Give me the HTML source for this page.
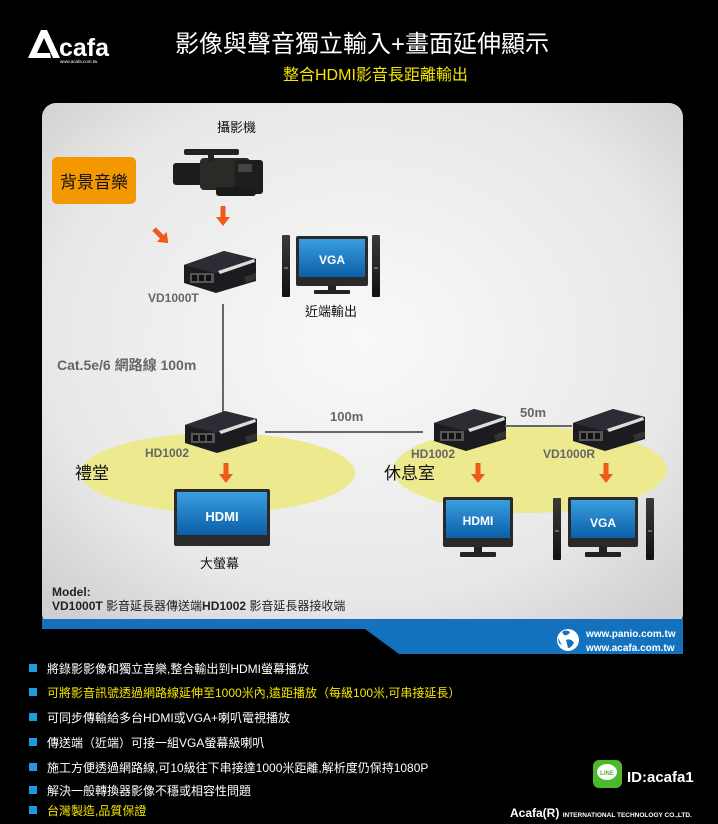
<!DOCTYPE html>
<html><head><meta charset="utf-8"><style>
body{margin:0;width:718px;height:824px;background:#000;overflow:hidden;font-family:"Liberation Sans","Noto Sans CJK TC",sans-serif}
svg{position:absolute;left:0;top:0}
</style></head><body>
<svg width="718" height="824" viewBox="0 0 718 824" font-family="Liberation Sans, Noto Sans CJK TC, sans-serif">
<defs>
<radialGradient id="pg" cx="0.5" cy="0.45" r="0.7">
<stop offset="0" stop-color="#f9f9f9"/><stop offset="0.7" stop-color="#e8e8e8"/><stop offset="1" stop-color="#cfcfcf"/>
</radialGradient>
<linearGradient id="scr" x1="0" y1="0" x2="0" y2="1"><stop offset="0" stop-color="#3a9ee0"/><stop offset="1" stop-color="#0b5fa8"/></linearGradient>
<linearGradient id="blk" x1="0" y1="0" x2="0" y2="1"><stop offset="0" stop-color="#3a3a3a"/><stop offset="1" stop-color="#111"/></linearGradient>
<g id="box">
<polygon points="0,14 40,0 72,8 72,30 32,42 0,32" fill="#1c1c20"/>
<polygon points="0,14 40,0 72,8 32,22" fill="#2c2c34"/>
<polygon points="34,20 70,8 71,11 36,23" fill="#ddd"/>
<rect x="6" y="22" width="24" height="10" fill="#555"/>
<rect x="8" y="24" width="5" height="6" fill="#111"/><rect x="15" y="24" width="5" height="6" fill="#111"/><rect x="22" y="24" width="5" height="6" fill="#111"/>
<polygon points="60,26 72,22 72,28 62,32" fill="#333"/>
</g>
<g id="spk"><rect x="0" y="0" width="8" height="62" rx="1" fill="url(#blk)"/><rect x="2" y="32" width="4" height="2" fill="#666"/></g>
<g id="arr"><rect x="-2.5" y="0" width="5" height="12" fill="#ee5a1c"/><polygon points="-7,11 7,11 0,20" fill="#ee5a1c"/></g>
</defs>

<!-- header -->
<polygon points="28,58 41,30 47,30 60,58 53,58 44,38 37,53 50,53 51,58" fill="#fff"/>
<text x="59" y="56" fill="#fff" font-size="25" font-weight="bold">cafa</text>
<text x="60" y="63" fill="#fff" font-size="4.5">www.acafa.com.tw</text>
<text x="175" y="52" fill="#fff" font-size="24">影像與聲音獨立輸入+畫面延伸顯示</text>
<text x="283" y="80" fill="#f5e500" font-size="16">整合HDMI影音長距離輸出</text>

<!-- panel -->
<rect x="42" y="103" width="641" height="525" rx="14" fill="url(#pg)"/>
<polygon points="42,619 683,619 683,654 399,654 365,629 42,629" fill="#1471bd"/>
<circle cx="568" cy="640" r="11" fill="#fff"/>
<path d="M562,632 q4,-3 8,0 q-2,4 -6,3 z M566,640 q5,-2 8,3 q-3,5 -6,5 z M558,638 q2,4 4,7 q-4,-1 -4,-7z" fill="#1471bd"/>
<text x="586" y="637" fill="#fff" font-size="10" font-weight="bold">www.panio.com.tw</text>
<text x="586" y="651" fill="#fff" font-size="10" font-weight="bold">www.acafa.com.tw</text>

<!-- ellipses -->
<ellipse cx="218" cy="473" rx="137" ry="40" fill="#ece98f"/>
<ellipse cx="530" cy="470" rx="137" ry="43" fill="#ece98f"/>

<!-- top section -->
<text x="217" y="132" font-size="13" fill="#111">攝影機</text>
<g>
<rect x="173" y="163" width="30" height="22" rx="3" fill="#1c1c1c"/>
<rect x="200" y="158" width="50" height="32" rx="4" fill="#2a2a26"/>
<rect x="235" y="160" width="28" height="34" rx="3" fill="#1e1e1e"/>
<rect x="184" y="149" width="55" height="6" rx="2" fill="#222"/>
<rect x="208" y="154" width="6" height="8" fill="#222"/>
<rect x="216" y="187" width="40" height="9" rx="3" fill="#1a1a1a"/>
<rect x="238" y="164" width="14" height="8" fill="#444"/>
</g>
<rect x="52" y="157" width="84" height="47" rx="5" fill="#f39800"/>
<text x="94" y="188" font-size="17" fill="#111" text-anchor="middle">背景音樂</text>
<use href="#arr" x="223" y="206"/>
<g transform="translate(154,229) rotate(-45)"><use href="#arr"/></g>
<use href="#box" x="184" y="251"/>
<text x="148" y="302" font-size="12" font-weight="bold" fill="#666">VD1000T</text>
<!-- near VGA -->
<use href="#spk" x="282" y="235"/><use href="#spk" x="372" y="235"/>
<rect x="296" y="236" width="72" height="50" rx="2" fill="#2a2a2a"/>
<rect x="299" y="239" width="66" height="38" fill="url(#scr)"/>
<text x="332" y="264" font-size="12" font-weight="bold" fill="#fff" text-anchor="middle">VGA</text>
<rect x="328" y="286" width="8" height="5" fill="#222"/><rect x="314" y="290" width="36" height="4" rx="1" fill="#222"/>
<text x="305" y="316" font-size="13" fill="#111">近端輸出</text>

<line x1="223" y1="304" x2="223" y2="425" stroke="#666" stroke-width="2"/>
<text x="57" y="370" font-size="14" font-weight="bold" fill="#666">Cat.5e/6 網路線 100m</text>

<!-- lower devices -->
<use href="#box" x="185" y="411"/>
<text x="145" y="457" font-size="12" font-weight="bold" fill="#666">HD1002</text>
<line x1="265" y1="432" x2="423" y2="432" stroke="#666" stroke-width="2"/>
<text x="330" y="421" font-size="13" font-weight="bold" fill="#666">100m</text>
<use href="#box" x="434" y="409"/>
<text x="411" y="458" font-size="12" font-weight="bold" fill="#666">HD1002</text>
<line x1="505" y1="426" x2="572" y2="426" stroke="#666" stroke-width="2"/>
<text x="520" y="417" font-size="13" font-weight="bold" fill="#666">50m</text>
<use href="#box" x="573" y="409"/>
<text x="543" y="458" font-size="12" font-weight="bold" fill="#666">VD1000R</text>
<text x="75" y="479" font-size="17" fill="#111">禮堂</text>
<text x="384" y="479" font-size="17" fill="#111">休息室</text>
<use href="#arr" x="226" y="463"/><use href="#arr" x="478" y="463"/><use href="#arr" x="606" y="463"/>

<!-- big HDMI -->
<rect x="174" y="489" width="96" height="57" rx="2" fill="#2a2a2a"/>
<rect x="177" y="492" width="90" height="43" fill="url(#scr)"/>
<text x="222" y="521" font-size="13" font-weight="bold" fill="#fff" text-anchor="middle">HDMI</text>
<text x="200" y="568" font-size="13" fill="#111">大螢幕</text>
<!-- right HDMI -->
<rect x="443" y="497" width="70" height="50" rx="2" fill="#2a2a2a"/>
<rect x="446" y="500" width="64" height="38" fill="url(#scr)"/>
<text x="478" y="525" font-size="12" font-weight="bold" fill="#fff" text-anchor="middle">HDMI</text>
<rect x="474" y="547" width="8" height="6" fill="#222"/><rect x="460" y="552" width="36" height="5" rx="1" fill="#222"/>
<!-- right VGA -->
<use href="#spk" x="553" y="498"/><use href="#spk" x="646" y="498"/>
<rect x="568" y="497" width="70" height="50" rx="2" fill="#2a2a2a"/>
<rect x="571" y="500" width="64" height="38" fill="url(#scr)"/>
<text x="603" y="527" font-size="12" font-weight="bold" fill="#fff" text-anchor="middle">VGA</text>
<rect x="599" y="547" width="8" height="6" fill="#222"/><rect x="585" y="552" width="36" height="5" rx="1" fill="#222"/>

<text x="52" y="596" font-size="12" font-weight="bold" fill="#222">Model:</text>
<text x="52" y="610" font-size="12" fill="#222"><tspan font-weight="bold">VD1000T</tspan> 影音延長器傳送端<tspan font-weight="bold">HD1002</tspan> 影音延長器接收端</text>

<!-- bullets -->
<g fill="#1e9be0">
<rect x="29" y="664" width="8" height="8"/><rect x="29" y="688" width="8" height="8"/><rect x="29" y="713" width="8" height="8"/>
<rect x="29" y="738" width="8" height="8"/><rect x="29" y="763" width="8" height="8"/><rect x="29" y="786" width="8" height="8"/><rect x="29" y="806" width="8" height="8"/>
</g>
<g font-size="12" fill="#fff">
<text x="47" y="673">將錄影影像和獨立音樂,整合輸出到HDMI螢幕播放</text>
<text x="47" y="697" fill="#f5e500">可將影音訊號透過網路線延伸至1000米內,遠距播放（每級100米,可串接延長）</text>
<text x="47" y="722">可同步傳輸給多台HDMI或VGA+喇叭電視播放</text>
<text x="47" y="747">傳送端（近端）可接一組VGA螢幕級喇叭</text>
<text x="47" y="772">施工方便透過網路線,可10級往下串接達1000米距離,解析度仍保持1080P</text>
<text x="47" y="795">解決一般轉換器影像不穩或相容性問題</text>
<text x="47" y="815" fill="#f5e500">台灣製造,品質保證</text>
</g>
<rect x="593" y="760" width="29" height="28" rx="6" fill="#4cb82c"/>
<ellipse cx="607" cy="772" rx="10" ry="8" fill="#fff"/>
<text x="607" y="775" font-size="6" font-weight="bold" fill="#4cb82c" text-anchor="middle">LINE</text>
<text x="627" y="782" font-size="15" font-weight="bold" fill="#fff">ID:acafa1</text>
<text x="510" y="817" font-size="12" font-weight="bold" fill="#fff">Acafa(R) <tspan font-size="6.5">INTERNATIONAL TECHNOLOGY CO.,LTD.</tspan></text>
</svg>
</body></html>
